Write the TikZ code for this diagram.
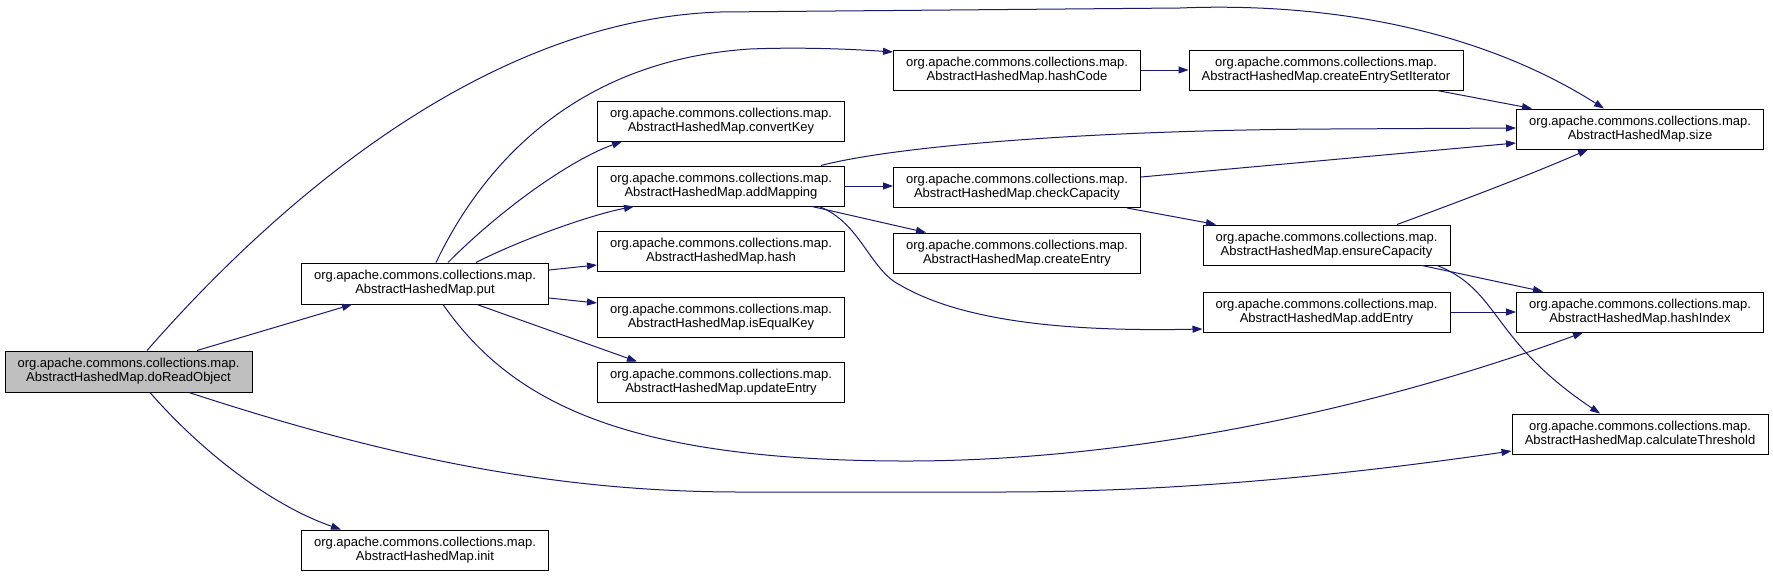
\documentclass[tikz,border=0pt]{standalone}
\usepackage{fontspec}
\setmainfont{Liberation Sans}
\usepackage{tikz}
\usetikzlibrary{arrows.meta,calc,positioning}
\definecolor{edgeblue}{RGB}{25,25,112}
\definecolor{curgray}{RGB}{191,191,191}
\newcommand{\ahm}[1]{org.apache.commons.collections.map.\\AbstractHashedMap.#1}

\begin{document}
\begin{tikzpicture}[x=1pt,y=-1pt,
    fn/.style={draw=black,line width=1pt,fill=white,inner sep=0pt,minimum width=247pt,minimum height=40pt,align=center,font=\fontsize{13}{14}\selectfont},
    call/.style={draw=edgeblue,line width=1pt,-{Triangle[length=10pt,width=7pt]}}]
    \path[use as bounding box,fill=white](0,0) rectangle (1773,576);

    \node[fn,fill=curgray,minimum height=41pt](doReadObject) at (128.5,371.5){\ahm{doReadObject}};
    \node[fn,minimum height=41pt](put) at (425,283.5){\ahm{put}};
    \node[fn](init) at (425,550){\ahm{init}};
    \node[fn](convertKey) at (721,121){\ahm{convertKey}};
    \node[fn](addMapping) at (721,186){\ahm{addMapping}};
    \node[fn](hash) at (721,251.5){\ahm{hash}};
    \node[fn](isEqualKey) at (721,317){\ahm{isEqualKey}};
    \node[fn](updateEntry) at (721,382){\ahm{updateEntry}};
    \node[fn](hashCode) at (1017,70){\ahm{hashCode}};
    \node[fn](checkCapacity) at (1017,187.5){\ahm{checkCapacity}};
    \node[fn](createEntry) at (1017,253){\ahm{createEntry}};
    \node[fn,minimum width=274pt](createEntrySetIterator) at (1326,70){\ahm{createEntrySetIterator}};
    \node[fn](ensureCapacity) at (1326.5,245){\ahm{ensureCapacity}};
    \node[fn](addEntry) at (1326.5,312){\ahm{addEntry}};
    \node[fn](size) at (1640,129){\ahm{size}};
    \node[fn](hashIndex) at (1640,312){\ahm{hashIndex}};
    \node[fn,minimum width=256pt](calculateThreshold) at (1640,434){\ahm{calculateThreshold}};

    \draw[call]([xshift=18.5pt]doReadObject.north) .. controls (270,210) and (480,20) .. (720,12) -- (1180,8) .. controls (1330,2) and (1480,30) .. ([xshift=-36pt]size.north);
    \draw[call]([xshift=68.5pt]doReadObject.north) -- ([xshift=-73pt]put.south);
    \draw[call]([xshift=60.5pt]doReadObject.south) .. controls (380,455) and (550,492) .. (740,492) -- (1000,492) .. controls (1200,492) and (1380,470) .. ([yshift=-17pt]calculateThreshold.west);
    \draw[call]([xshift=21.5pt]doReadObject.south) .. controls (200,450) and (270,505) .. ([xshift=-84pt]init.north);
    \draw[call]([xshift=11pt]put.north) .. controls (485,160) and (580,60) .. (750,49) .. controls (800,47) and (850,49) .. ([yshift=18pt]hashCode.west);
    \draw[call]([xshift=23pt]put.north) .. controls (500,210) and (570,160) .. ([xshift=-99pt]convertKey.south);
    \draw[call]([xshift=51pt]put.north) .. controls (520,240) and (590,215) .. ([xshift=-87pt]addMapping.south);
    \draw[call]([yshift=13.5pt]put.east) -- ([yshift=-13.5pt]hash.west);
    \draw[call]([yshift=-14.5pt]put.east) -- ([yshift=14pt]isEqualKey.west);
    \draw[call]([xshift=52pt]put.south) -- ([xshift=-84pt]updateEntry.north);
    \draw[call]([xshift=18pt]put.south) .. controls (510,400) and (620,460) .. (900,461) .. controls (1150,462) and (1400,400) .. ([xshift=-57pt]hashIndex.south);
    \draw[call]([xshift=100pt]addMapping.north) .. controls (900,145) and (1100,130) .. (1330,129) -- ([yshift=1pt]size.west);
    \draw[call](addMapping.east) -- (addMapping.east -| checkCapacity.west);
    \draw[call]([xshift=91pt]addMapping.south) -- ([xshift=-91pt]createEntry.north);
    \draw[call]([xshift=98pt]addMapping.south) .. controls (860,222) and (870,270) .. (900,285) .. controls (960,320) and (1060,332) .. ([yshift=-17pt]addEntry.west);
    \draw[call](hashCode.east) -- (createEntrySetIterator.west);
    \draw[call]([xshift=111pt]createEntrySetIterator.south) -- ([xshift=-108pt]size.north);
    \draw[call]([yshift=10.5pt]checkCapacity.east) -- ([yshift=-14pt]size.west);
    \draw[call]([xshift=110pt]checkCapacity.south) -- ([xshift=-110.5pt]ensureCapacity.north);
    \draw[call]([xshift=70.5pt]ensureCapacity.north) .. controls (1450,205) and (1530,175) .. ([xshift=-52pt]size.south);
    \draw[call]([xshift=95.5pt]ensureCapacity.south) -- ([xshift=-97pt]hashIndex.north);
    \draw[call]([xshift=110.5pt]ensureCapacity.south) .. controls (1500,290) and (1490,340) .. ([xshift=-40pt]calculateThreshold.north);
    \draw[call](addEntry.east) -- (hashIndex.west);
\end{tikzpicture}
\end{document}
